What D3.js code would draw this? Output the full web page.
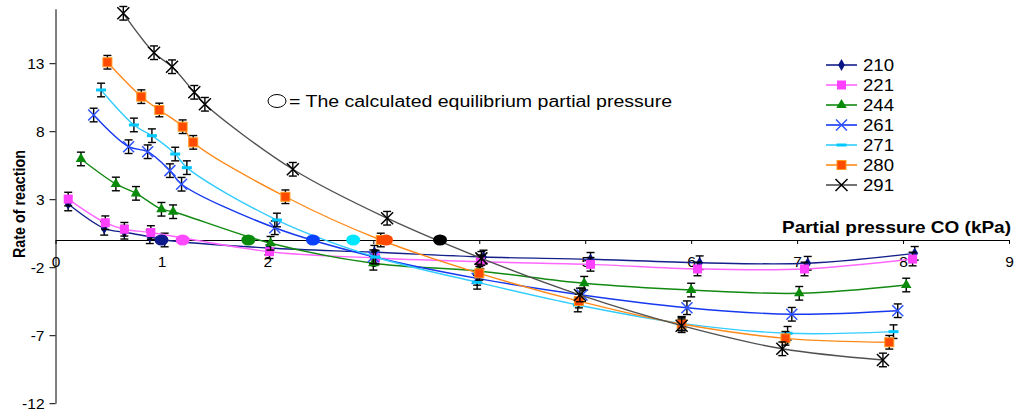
<!DOCTYPE html>
<html>
<head>
<meta charset="utf-8">
<script src="https://cdn.jsdelivr.net/npm/d3@7"></script>
<style>
  body { margin: 0; background: #fff; }
  svg { display: block; font-family: "Liberation Sans", Arial, sans-serif; }
</style>
</head>
<body>
<script>
// temperatures (series names)
var seriesNames = ["210", "221", "244", "261", "271", "280", "291"];

// partial pressure CO (kPa) and rate of reaction
var p210 = [0.12, 0.46, 0.65, 0.89, 1.03, 2.01, 3.01, 4.04, 5.05, 6.08, 7.10, 8.11];
var r210 = [2.65, 0.86, 0.57, 0.24, 0.0, -0.59, -0.9, -1.25, -1.42, -1.67, -1.71, -0.98];

var p221 = [0.12, 0.47, 0.65, 0.90, 2.02, 3.02, 4.01, 5.05, 6.06, 7.07, 8.09];
var r221 = [3.01, 1.27, 0.79, 0.55, -0.86, -1.32, -1.6, -1.79, -2.13, -2.13, -1.40];

var p244 = [0.24, 0.57, 0.76, 1.00, 1.11, 2.03, 3.00, 3.99, 4.99, 6.00, 7.02, 8.03];
var r244 = [5.96, 4.12, 3.43, 2.26, 2.08, -0.24, -1.71, -2.28, -3.18, -3.68, -3.92, -3.31];

var p261 = [0.36, 0.69, 0.87, 1.08, 1.19, 2.07, 3.00, 3.98, 4.97, 5.96, 6.95, 7.95];
var r261 = [9.19, 6.86, 6.49, 5.10, 4.10, 0.9, -1.23, -2.82, -4.04, -4.98, -5.46, -5.2];

var p271 = [0.43, 0.74, 0.91, 1.13, 1.24, 2.09, 3.02, 3.98, 4.93, 5.91, 6.91, 7.91];
var r271 = [11.03, 8.46, 7.67, 6.32, 5.32, 1.47, -1.25, -3.11, -4.78, -6.13, -6.86, -6.74];

var p280 = [0.49, 0.81, 0.98, 1.20, 1.30, 2.17, 3.07, 4.00, 4.94, 5.91, 6.89, 7.87];
var r280 = [13.07, 10.54, 9.56, 8.33, 7.18, 3.18, 0.0, -2.45, -4.49, -6.18, -7.23, -7.52];

var p291 = [0.64, 0.93, 1.10, 1.31, 1.41, 2.24, 3.13, 4.02, 4.95, 5.91, 6.86, 7.81];
var r291 = [16.67, 13.77, 12.74, 10.86, 9.98, 5.2, 1.6, -1.35, -4.04, -6.3, -8.0, -8.82];

// calculated equilibrium partial pressures (on the x axis)
var equilibrium = [1.0, 1.2, 1.82, 2.43, 2.81, 3.12, 3.63];

// half height of the error bars (rate units)
var errHalf = 0.5;

var xTicks = [0, 1, 2, 3, 4, 5, 6, 7, 8, 9];
var yTicks = [-12, -7, -2, 3, 8, 13];

// styles per series
var lineColor = ["#14208a", "#ff66ff", "#128a12", "#1638f0", "#33ccff", "#ff8a1a", "#505050"];
var markColor = ["#0a1585", "#ff40ff", "#0a8a0a", "#2e52ff", "#00c8ff", "#ff4a00", "#000000"];
var markType = ["diamond", "square", "triangle", "cross", "dash", "osquare", "bigcross"];
var dotColor = ["#0c1a8c", "#ff4aff", "#0a8a0a", "#0a40ff", "#00e6ff", "#ff4a00", "#000000"];

var allP = [p210, p221, p244, p261, p271, p280, p291];
var allR = [r210, r221, r244, r261, r271, r280, r291];

var W = 1017, H = 414;
var svg = d3.select("body").append("svg")
  .attr("width", W)
  .attr("height", H);

var x = d3.scaleLinear().domain([0, 9]).range([55.5, 1009]);
var y = d3.scaleLinear().domain([-12, 17]).range([403.2, 8.8]);

// y axis
var yAxis = svg.append("g")
  .attr("transform", "translate(" + x(0) + ",0)")
  .call(d3.axisLeft(y).tickValues(yTicks).tickSize(6).tickSizeOuter(0).tickPadding(5)
    .tickFormat(function(d) { return String(d); }));

// x axis at rate 0
var xAxis = svg.append("g")
  .attr("transform", "translate(0," + y(0) + ")")
  .call(d3.axisBottom(x).tickValues(xTicks).tickSize(4).tickSizeOuter(0).tickPadding(12)
    .tickFormat(function(d) { return String(d); }));

[yAxis, xAxis].forEach(function(a) {
  a.selectAll("path, line").attr("stroke", "#000").attr("stroke-width", 1);
  a.selectAll("text").attr("fill", "#000").attr("font-size", 15.5)
    .attr("font-family", "'Liberation Sans', Arial, sans-serif");
});

// axis titles
svg.append("text")
  .attr("x", 782)
  .attr("y", 233)
  .attr("font-size", 16.5)
  .attr("font-weight", "bold")
  .attr("textLength", 229)
  .attr("lengthAdjust", "spacingAndGlyphs")
  .text("Partial pressure CO (kPa)");

svg.append("text")
  .attr("transform", "translate(25,204) rotate(-90)")
  .attr("text-anchor", "middle")
  .attr("font-size", 17)
  .attr("font-weight", "bold")
  .attr("textLength", 108)
  .attr("lengthAdjust", "spacingAndGlyphs")
  .text("Rate of reaction");

// draw a marker of a given type at the origin of group g
function drawMarker(g, i) {
  var t = markType[i], c = markColor[i];
  if (t == "diamond") {
    g.append("path").attr("d", d3.symbol(d3.symbolDiamond, 40)()).attr("fill", c);
  } else if (t == "square") {
    g.append("rect").attr("x", -4.5).attr("y", -4.5).attr("width", 9).attr("height", 9).attr("fill", c);
  } else if (t == "triangle") {
    g.append("path").attr("d", d3.symbol(d3.symbolTriangle, 48)()).attr("fill", c);
  } else if (t == "cross" || t == "bigcross") {
    var s = t == "cross" ? 5.5 : 6;
    g.append("path").attr("d", "M" + (-s) + "," + (-s) + "L" + s + "," + s + "M" + (-s) + "," + s + "L" + s + "," + (-s))
      .attr("stroke", c).attr("stroke-width", 1.5).attr("fill", "none");
  } else if (t == "dash") {
    g.append("line").attr("x1", -5).attr("x2", 5).attr("stroke", c).attr("stroke-width", 3);
  } else if (t == "osquare") {
    g.append("rect").attr("x", -4.5).attr("y", -4.5).attr("width", 9).attr("height", 9)
      .attr("fill", c).attr("stroke", "#ff9a20").attr("stroke-width", 1);
  }
}

var line = d3.line()
  .x(function(d) { return x(d.p); })
  .y(function(d) { return y(d.r); })
  .curve(d3.curveCatmullRom.alpha(0.5));

seriesNames.forEach(function(name, i) {
  var data = allP[i].map(function(p, k) { return {p: p, r: allR[i][k]}; });
  var g = svg.append("g").attr("class", "series s" + name);

  g.append("path")
    .datum(data)
    .attr("d", line)
    .attr("fill", "none")
    .attr("stroke", lineColor[i])
    .attr("stroke-width", 1.4);

  // error bars
  var eb = g.selectAll(".err").data(data).enter().append("g").attr("class", "err")
    .attr("stroke", "#000").attr("stroke-width", 1.4);
  eb.append("line")
    .attr("x1", function(d) { return x(d.p); }).attr("x2", function(d) { return x(d.p); })
    .attr("y1", function(d) { return y(d.r + errHalf); }).attr("y2", function(d) { return y(d.r - errHalf); });
  eb.append("line")
    .attr("x1", function(d) { return x(d.p) - 4; }).attr("x2", function(d) { return x(d.p) + 4; })
    .attr("y1", function(d) { return y(d.r + errHalf); }).attr("y2", function(d) { return y(d.r + errHalf); });
  eb.append("line")
    .attr("x1", function(d) { return x(d.p) - 4; }).attr("x2", function(d) { return x(d.p) + 4; })
    .attr("y1", function(d) { return y(d.r - errHalf); }).attr("y2", function(d) { return y(d.r - errHalf); });

  // markers
  g.selectAll(".mk").data(data).enter().append("g").attr("class", "mk")
    .attr("transform", function(d) { return "translate(" + x(d.p) + "," + y(d.r) + ")"; })
    .each(function() { drawMarker(d3.select(this), i); });
});

// equilibrium points
svg.selectAll(".eq").data(equilibrium).enter().append("ellipse")
  .attr("class", "eq")
  .attr("cx", function(d) { return x(d); })
  .attr("cy", y(0))
  .attr("rx", 7)
  .attr("ry", 5.6)
  .attr("fill", function(d, i) { return dotColor[i]; });

// annotation
svg.append("ellipse")
  .attr("cx", 277)
  .attr("cy", 101)
  .attr("rx", 9)
  .attr("ry", 6.5)
  .attr("fill", "none")
  .attr("stroke", "#000")
  .attr("stroke-width", 1);
svg.append("text")
  .attr("x", 289)
  .attr("y", 107)
  .attr("font-size", 16)
  .attr("textLength", 383)
  .attr("lengthAdjust", "spacingAndGlyphs")
  .text("= The calculated equilibrium partial pressure");

// legend
var legendY = [65, 85, 105, 125, 145, 165, 185];
var legend = svg.selectAll(".leg").data(seriesNames).enter().append("g")
  .attr("class", "leg")
  .attr("transform", function(d, i) { return "translate(826," + legendY[i] + ")"; });
legend.append("line")
  .attr("x1", 0).attr("x2", 31)
  .attr("stroke", function(d, i) { return lineColor[i]; })
  .attr("stroke-width", 1.6);
legend.append("g")
  .attr("transform", "translate(15.5,0)")
  .each(function(d, i) { drawMarker(d3.select(this), i); });
legend.append("text")
  .attr("x", 37)
  .attr("y", 6)
  .attr("font-size", 16)
  .attr("textLength", 31)
  .attr("lengthAdjust", "spacingAndGlyphs")
  .text(function(d) { return d; });
</script>
</body>
</html>
